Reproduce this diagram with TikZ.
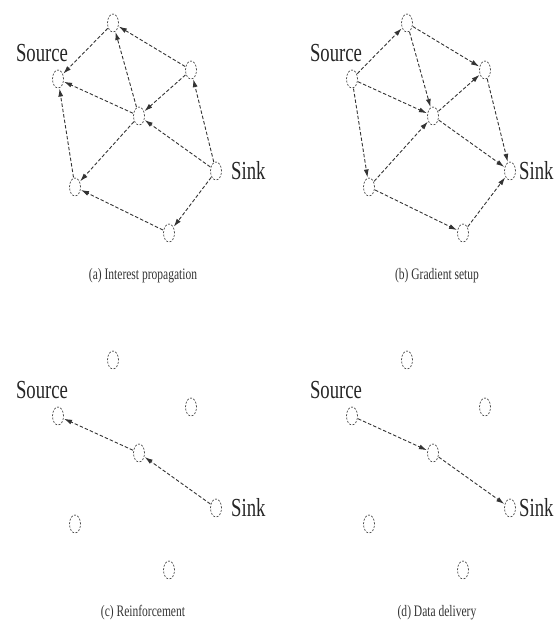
\documentclass[tikz,border=0pt]{standalone}
\usepackage{fontspec}
\setmainfont{Liberation Serif}
\newfontfamily\narrowserif[FakeStretch=0.72]{Liberation Serif}
\usetikzlibrary{shapes.geometric,arrows.meta}

\tikzset{
  sensor/.style={ellipse, draw=black!70, dash pattern=on 2pt off 1.5pt,
    line width=0.7pt, minimum width=11pt, minimum height=18pt, inner sep=0pt},
  link/.style={draw=black!80, line width=0.9pt, dash pattern=on 3.5pt off 2pt,
    -{Latex[length=8pt,width=5pt]}, shorten >=0.5pt, shorten <=0.5pt},
  tag/.style={font=\narrowserif\fontsize{26}{26}\selectfont, text=black!85, inner sep=0pt},
  caption/.style={font=\narrowserif\fontsize{16}{16}\selectfont, text=black!80, inner sep=0pt},
}

% one network panel: seven sensors, the source and sink labels, and a caption
% #1 name prefix, #2 caption, #3 x of the sink label's left edge
\newcommand{\sensorfield}[3]{%
  \node[sensor] (#1S) at (58,79) {};
  \node[sensor] (#1A) at (113,23) {};
  \node[sensor] (#1B) at (191,70) {};
  \node[sensor] (#1C) at (139,116) {};
  \node[sensor] (#1K) at (216,171) {};
  \node[sensor] (#1D) at (75,187) {};
  \node[sensor] (#1E) at (169,233) {};
  \node[tag] (#1src) at (42,53) {Source};
  \node[tag, anchor=west] (#1snk) at (#3,171) {Sink};
  \node[caption] (#1cap) at (143,276) {#2};
}

\begin{document}
\begin{tikzpicture}[x=1pt,y=-1pt]
  \useasboundingbox (0,0) rectangle (557,625);

  % (a) interests flooded from the sink
  \begin{scope}
    \sensorfield{a}{(a) Interest propagation}{231}
    \draw[link] (aB) -- (aA);
    \draw[link] (aA) -- (aS);
    \draw[link] (aC) -- (aA);
    \draw[link] (aC) -- (aS);
    \draw[link] (aB) -- (aC);
    \draw[link] (aK) -- (aB);
    \draw[link] (aK) -- (aC);
    \draw[link] (aC) -- (aD);
    \draw[link] (aD) -- (aS);
    \draw[link] (aK) -- (aE);
    \draw[link] (aE) -- (aD);
  \end{scope}

  % (b) gradients set up towards the sink
  \begin{scope}[shift={(294,0)}]
    \sensorfield{b}{(b) Gradient setup}{225}
    \draw[link] (bS) -- (bA);
    \draw[link] (bA) -- (bB);
    \draw[link] (bA) -- (bC);
    \draw[link] (bS) -- (bC);
    \draw[link] (bS) -- (bD);
    \draw[link] (bC) -- (bB);
    \draw[link] (bC) -- (bK);
    \draw[link] (bB) -- (bK);
    \draw[link] (bD) -- (bC);
    \draw[link] (bD) -- (bE);
    \draw[link] (bE) -- (bK);
  \end{scope}

  % (c) reinforced path
  \begin{scope}[shift={(0,337)}]
    \sensorfield{c}{(c) Reinforcement}{231}
    \draw[link] (cK) -- (cC);
    \draw[link] (cC) -- (cS);
  \end{scope}

  % (d) data along the reinforced path
  \begin{scope}[shift={(294,337)}]
    \sensorfield{d}{(d) Data delivery}{225}
    \draw[link] (dS) -- (dC);
    \draw[link] (dC) -- (dK);
  \end{scope}
\end{tikzpicture}
\end{document}
